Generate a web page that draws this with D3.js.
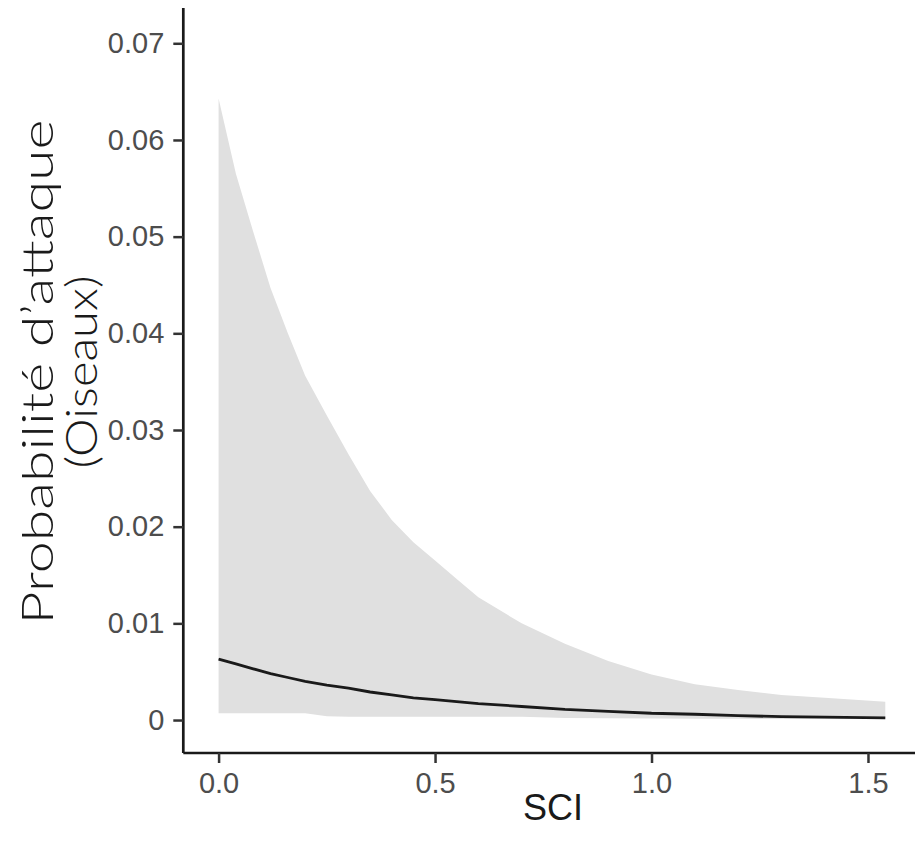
<!DOCTYPE html>
<html>
<head>
<meta charset="utf-8">
<script src="https://cdn.jsdelivr.net/npm/d3@7"></script>
<style>
  html, body { margin: 0; padding: 0; background: #ffffff; }
  svg { display: block; }
</style>
</head>
<body>
<svg id="chart" width="915" height="842"></svg>
<script>
// ---- data ----
const sci   = [0, 0.04, 0.08, 0.12, 0.16, 0.2, 0.25, 0.3, 0.35, 0.4, 0.45, 0.5, 0.55, 0.6, 0.7, 0.8, 0.9, 1.0, 1.1, 1.2, 1.3, 1.4, 1.54];
const fit   = [0.0063, 0.0058, 0.0053, 0.0048, 0.0044, 0.0040, 0.0036, 0.0033, 0.0029, 0.0026, 0.0023, 0.0021, 0.0019, 0.0017, 0.0014, 0.0011, 0.0009, 0.0007, 0.0006, 0.00045, 0.00035, 0.0003, 0.00022];
const lower = [0.0007, 0.0007, 0.0007, 0.0007, 0.0007, 0.0007, 0.0004, 0.00035, 0.00035, 0.00035, 0.00035, 0.00035, 0.00035, 0.00035, 0.00035, 0.0002, 0.00018, 0.00016, 0.00014, 0.00012, 0.0001, 0.0001, 0.0001];
const upper = [0.0643, 0.0565, 0.0505, 0.0447, 0.0400, 0.0356, 0.0315, 0.0275, 0.0237, 0.0207, 0.0184, 0.0165, 0.0146, 0.0127, 0.0100, 0.0079, 0.0061, 0.0047, 0.0037, 0.0031, 0.0026, 0.0023, 0.0019];

const xTicks = [0, 0.5, 1.0, 1.5];
const xTickLabels = ["0.0", "0.5", "1.0", "1.5"];
const yTicks = [0, 0.01, 0.02, 0.03, 0.04, 0.05, 0.06, 0.07];
const yTickLabels = ["0", "0.01", "0.02", "0.03", "0.04", "0.05", "0.06", "0.07"];

const xTitle = "SCI";
const yTitleLines = ["Probabilité d’attaque", "(Oiseaux)"];

// ---- layout ----
const panel = { left: 183.3, right: 915, top: 8, bottom: 753 };

const x = d3.scaleLinear().domain([-0.0815, 1.6086]).range([panel.left, panel.right]);
const y = d3.scaleLinear().domain([-0.00341, 0.07365]).range([panel.bottom, panel.top]);

const svg = d3.select("#chart");

const rows = sci.map((s, i) => ({ s, fit: fit[i], lo: lower[i], hi: upper[i] }));

// ribbon
svg.append("path")
  .datum(rows)
  .attr("fill", "#e0e0e0")
  .attr("d", d3.area().x(d => x(d.s)).y0(d => y(d.lo)).y1(d => y(d.hi)));

// fitted line
svg.append("path")
  .datum(rows)
  .attr("fill", "none")
  .attr("stroke", "#1a1a1a")
  .attr("stroke-width", 2.8)
  .attr("d", d3.line().x(d => x(d.s)).y(d => y(d.fit)));

// axes
const xAxis = d3.axisBottom(x).tickValues(xTicks)
  .tickFormat((d, i) => xTickLabels[i]).tickSizeInner(10).tickSizeOuter(0).tickPadding(9);
const yAxis = d3.axisLeft(y).tickValues(yTicks)
  .tickFormat((d, i) => yTickLabels[i]).tickSizeInner(10).tickSizeOuter(0).tickPadding(9);

const gx = svg.append("g").attr("transform", `translate(0,${panel.bottom})`).call(xAxis);
const gy = svg.append("g").attr("transform", `translate(${panel.left},0)`).call(yAxis);

[gx, gy].forEach(g => {
  g.select(".domain").attr("stroke", "#1a1a1a").attr("stroke-width", 2.7);
  g.selectAll(".tick line").attr("stroke", "#333333").attr("stroke-width", 2.5);
  g.selectAll(".tick text")
    .attr("fill", "#4d4d4d")
    .style("font-family", "'Liberation Sans', Arial, sans-serif")
    .style("font-size", "29px");
});
gx.select(".domain").attr("d", `M${panel.left},0H${panel.right}`);
gy.select(".domain").attr("d", `M0,${panel.top}V${panel.bottom}`);

// axis titles
svg.append("text")
  .attr("x", 553).attr("y", 820)
  .attr("text-anchor", "middle")
  .style("font-family", "'Liberation Sans', Arial, sans-serif")
  .style("font-size", "36px")
  .attr("fill", "#1a1a1a")
  .text(xTitle);

const titleLengths = [505, 193];
const yt = svg.append("text")
  .attr("transform", "rotate(-90)")
  .attr("text-anchor", "middle")
  .style("font-family", "Lato, 'Noto Sans', sans-serif")
  .style("font-weight", "300")
  .style("font-size", "44px")
  .attr("fill", "#1a1a1a");
yTitleLines.forEach((t, i) => {
  yt.append("tspan")
    .attr("x", -372).attr("y", 53 + i * 44)
    .attr("textLength", titleLengths[i])
    .attr("lengthAdjust", "spacingAndGlyphs")
    .text(t);
});
</script>
</body>
</html>
